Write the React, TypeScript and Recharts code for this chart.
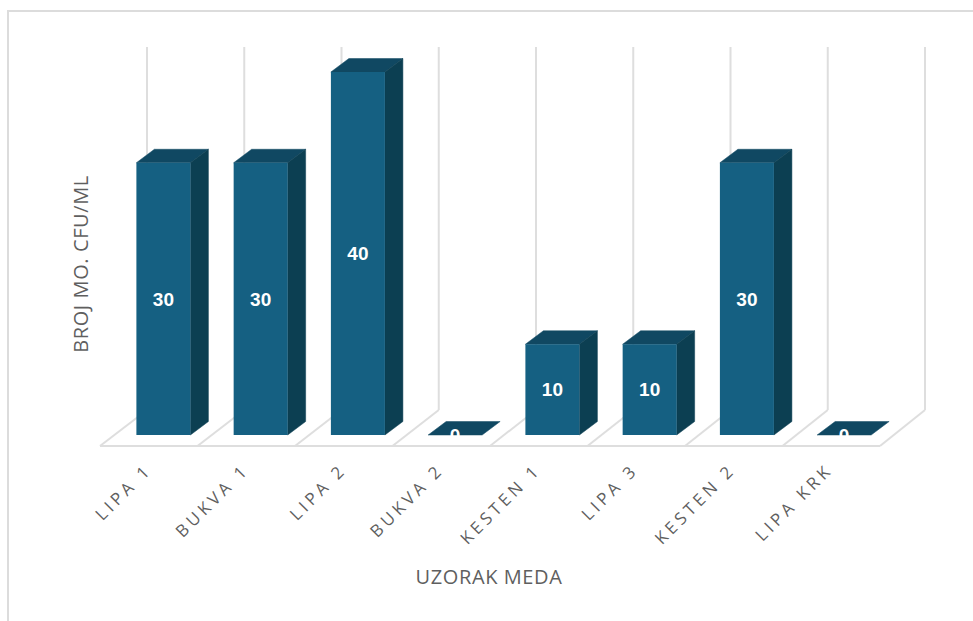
import React from "react";
import { BarChart, Bar, XAxis, YAxis, LabelList, usePlotArea } from "recharts";

const categories = ["LIPA 1", "BUKVA 1", "LIPA 2", "BUKVA 2", "KESTEN 1", "LIPA 3", "KESTEN 2", "LIPA KRK"];
const counts = [30, 30, 40, 0, 10, 10, 30, 0];

const data = categories.map((name, i) => ({ name, value: counts[i] }));

const GRID = "#dedede";
const TEXT = "#5f5f5f";
const FONT = "'Open Sans', sans-serif";

// depth of the fake 3D box and of the floor
const BAR_DX = 18;
const BAR_DY = 13.5;

function Box(props: any) {
  const { x, y, width, height } = props;
  const r = x + width;
  const b = y + height;
  return (
    <g>
      <polygon
        points={`${x},${y} ${x + BAR_DX},${y - BAR_DY} ${r + BAR_DX},${y - BAR_DY} ${r},${y}`}
        fill="#104862"
        stroke="#104862"
        strokeWidth={0.5}
      />
      {height > 0 && (
        <polygon
          points={`${r},${y} ${r + BAR_DX},${y - BAR_DY} ${r + BAR_DX},${b - BAR_DY} ${r},${b}`}
          fill="#0c3f52"
          stroke="#0c3f52"
          strokeWidth={0.5}
        />
      )}
      {height > 0 && <rect x={x} y={y} width={width} height={height} fill="#156082" />}
    </g>
  );
}

// back wall lines and floor, hung on the plot area
function Walls() {
  const plot = usePlotArea();
  if (!plot) return null;
  const base = plot.y + plot.height;
  const backY = base - 25;
  const frontY = base + 11;
  const step = plot.width / categories.length;
  const backLeft = plot.x + 32.6;
  const frontLeft = plot.x - 14.4;
  const frontStep = step + 0.25;
  const lines = [];
  for (let i = 0; i <= categories.length; i++) {
    const bx = backLeft + i * step;
    const fx = frontLeft + i * frontStep;
    lines.push(
      <g key={i}>
        <line x1={bx} y1={backY - plot.height} x2={bx} y2={backY} stroke={GRID} strokeWidth={2} />
        <line x1={bx} y1={backY} x2={fx} y2={frontY} stroke={GRID} strokeWidth={2} />
      </g>
    );
  }
  return (
    <g>
      {lines}
      <line x1={frontLeft} y1={frontY} x2={frontLeft + categories.length * frontStep} y2={frontY} stroke={GRID} strokeWidth={2} />
    </g>
  );
}

function CategoryTick({ x, y, payload }: any) {
  return (
    <text
      transform={`translate(${x - 10},${y + 28}) rotate(-45)`}
      textAnchor="end"
      fontSize={17}
      letterSpacing={3.8}
      fontFamily={FONT}
      fill={TEXT}
    >
      {payload.value}
    </text>
  );
}

export default function App() {
  return (
    <div style={{ position: "absolute", left: 0, top: 0, width: 973, height: 621, overflow: "hidden", background: "#fff" }}>
      <div
        style={{
          position: "absolute",
          left: 7,
          top: 10,
          width: 973,
          height: 621,
          borderTop: "2px solid #dcdcdc",
          borderLeft: "2px solid #dcdcdc",
        }}
      />
      <div style={{ position: "absolute", left: 0, top: 0 }}>
        <BarChart
          width={973}
          height={621}
          data={data}
          margin={{ top: 72, right: 80.6, left: 114.4, bottom: 86 }}
          style={{ overflow: "visible" }}
        >
          <Walls />
          <XAxis
            dataKey="name"
            interval={0}
            height={100}
            axisLine={false}
            tickLine={false}
            tick={<CategoryTick />}
          />
          <YAxis hide domain={[0, 40]} />
          <Bar dataKey="value" barSize={54} shape={<Box />} isAnimationActive={false}>
            <LabelList
              dataKey="value"
              position="center"
              fill="#ffffff"
              fontSize={19}
              fontWeight={700}
              fontFamily="'Liberation Sans', Arial, sans-serif"
            />
          </Bar>
          <text x={489} y={584} textAnchor="middle" fontSize={20} letterSpacing={0.6} fontFamily={FONT} fill={TEXT}>
            UZORAK MEDA
          </text>
          <text
            transform="translate(88,264) rotate(-90)"
            textAnchor="middle"
            fontSize={20}
            letterSpacing={0.6}
            fontFamily={FONT}
            fill={TEXT}
          >
            BROJ MO. CFU/ML
          </text>
        </BarChart>
      </div>
    </div>
  );
}
